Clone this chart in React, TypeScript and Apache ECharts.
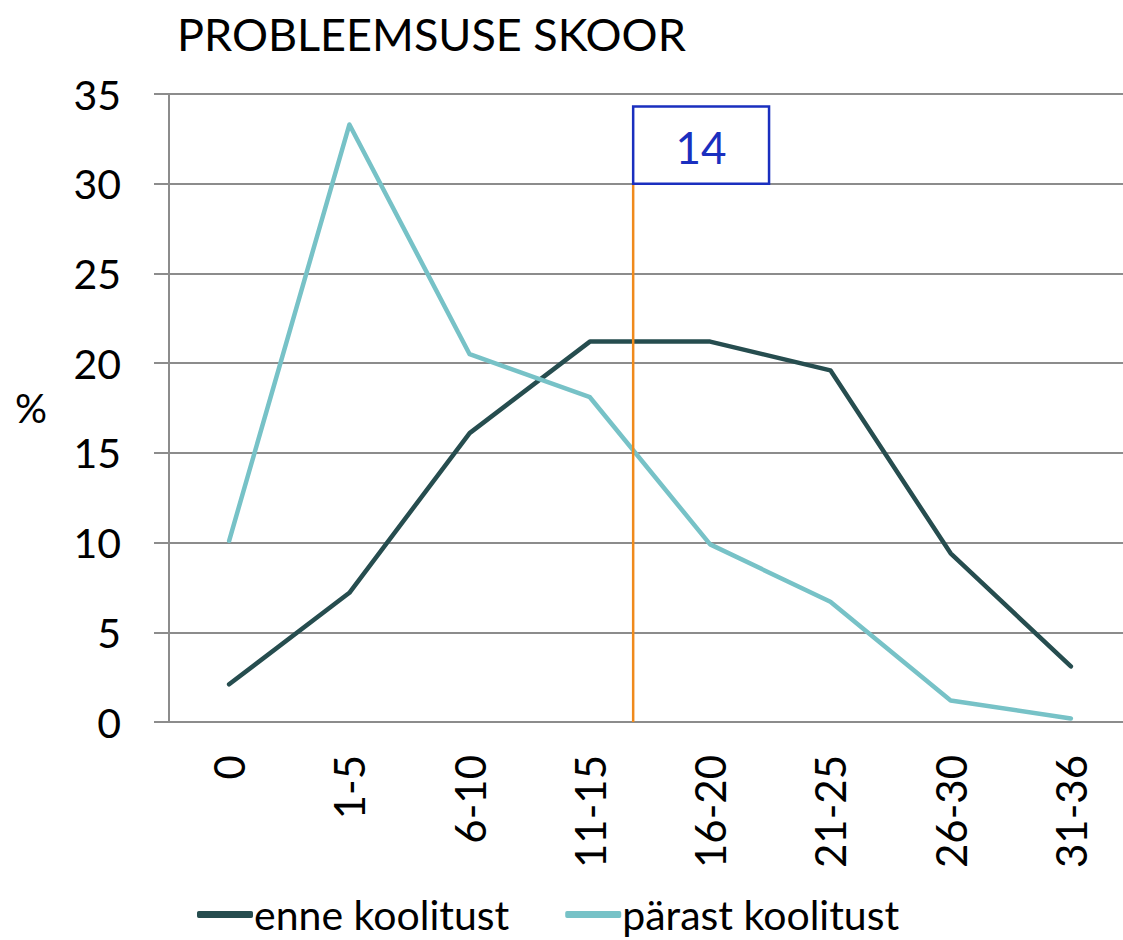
import React, { useEffect, useRef } from "react";
import * as echarts from "echarts";

const categories = ["0", "1-5", "6-10", "11-15", "16-20", "21-25", "26-30", "31-36"];
const enneKoolitust = [2.1, 7.2, 16.1, 21.2, 21.2, 19.6, 9.4, 3.1];
const parastKoolitust = [10.1, 33.3, 20.5, 18.1, 9.9, 6.7, 1.2, 0.2];
const yTicks = { min: 0, max: 35, interval: 5 };
// marker position expressed in category-band units (0..8)
const markerPos = 3.86;
const markerLabel = "14";
const markerBoxY = [30, 34.3];
const markerBoxWidth = 1.13;

const FONT = "Lato";
const GRID = "#8c8c8c";

export default function App() {
  const ref = useRef<HTMLDivElement>(null);
  useEffect(() => {
    const chart = echarts.init(ref.current!, null, { renderer: "svg" });
    chart.setOption({
      animation: false,
      textStyle: { fontFamily: FONT },
      title: {
        text: "PROBLEEMSUSE SKOOR",
        left: 172,
        top: 6,
        textStyle: { fontFamily: FONT, fontSize: 45, fontWeight: "normal", color: "#000" },
      },
      legend: {
        top: 889,
        left: 192,
        itemGap: 56,
        itemWidth: 56,
        itemHeight: 7,
        icon: "roundRect",
        textStyle: { fontFamily: FONT, fontSize: 41, color: "#000", padding: [0, 0, 0, -4] },
        data: ["enne koolitust", "pärast koolitust"],
      },
      grid: {
        left: 169,
        right: -8,
        top: 94,
        bottom: 218,
        containLabel: false,
        outerBoundsMode: "none",
      },
      xAxis: [
        {
          type: "category",
          data: categories,
          axisLine: { lineStyle: { color: GRID, width: 2 } },
          axisTick: { length: 15, lineStyle: { color: GRID, width: 2 } },
          axisLabel: { rotate: 90, fontSize: 42, color: "#000", margin: 33, fontFamily: FONT },
        },
        {
          type: "value",
          min: 0,
          max: 8,
          show: false,
        },
      ],
      yAxis: {
        type: "value",
        min: yTicks.min,
        max: yTicks.max,
        interval: yTicks.interval,
        name: "%",
        nameLocation: "middle",
        nameRotate: 0,
        nameGap: 122,
        nameTextStyle: { fontSize: 40, color: "#000", fontFamily: FONT },
        axisLine: { show: true, lineStyle: { color: GRID, width: 2 } },
        axisTick: { show: true, length: 15, lineStyle: { color: GRID, width: 2 } },
        splitLine: { lineStyle: { color: GRID, width: 2 } },
        axisLabel: { fontSize: 41, color: "#000", margin: 48, fontFamily: FONT },
      },
      series: [
        {
          name: "enne koolitust",
          type: "line",
          data: enneKoolitust,
          symbol: "none",
          lineStyle: { color: "#264d4f", width: 4.5, cap: "round", join: "round" },
          itemStyle: { color: "#264d4f" },
        },
        {
          name: "pärast koolitust",
          type: "line",
          data: parastKoolitust,
          symbol: "none",
          lineStyle: { color: "#77c2c7", width: 4.5, cap: "round", join: "round" },
          itemStyle: { color: "#77c2c7" },
        },
        {
          name: "marker",
          type: "line",
          xAxisIndex: 1,
          data: [
            [markerPos, 0],
            [markerPos, markerBoxY[0]],
          ],
          symbol: "none",
          lineStyle: { color: "#f08a1c", width: 2.5 },
          z: 5,
        },
        {
          name: "markerBox",
          type: "custom",
          xAxisIndex: 1,
          data: [[markerPos, markerBoxY[0], markerPos + markerBoxWidth, markerBoxY[1]]],
          renderItem: (params: any, api: any) => {
            const p1 = api.coord([api.value(0), api.value(1)]);
            const p2 = api.coord([api.value(2), api.value(3)]);
            return {
              type: "group",
              children: [
                {
                  type: "rect",
                  shape: { x: p1[0], y: p2[1], width: p2[0] - p1[0], height: p1[1] - p2[1] },
                  style: { fill: "#fff", stroke: "#1a2fbf", lineWidth: 2.5 },
                },
                {
                  type: "text",
                  x: (p1[0] + p2[0]) / 2,
                  y: (p1[1] + p2[1]) / 2 + 2,
                  style: {
                    text: markerLabel,
                    fill: "#1a2fbf",
                    font: `44px ${FONT}`,
                    align: "center",
                    verticalAlign: "middle",
                  },
                },
              ],
            };
          },
          z: 6,
        },
      ],
    });
    return () => chart.dispose();
  }, []);
  return (
    <div
      ref={ref}
      style={{ position: "fixed", left: 0, top: 0, width: 1123, height: 940, background: "#fff" }}
    />
  );
}
